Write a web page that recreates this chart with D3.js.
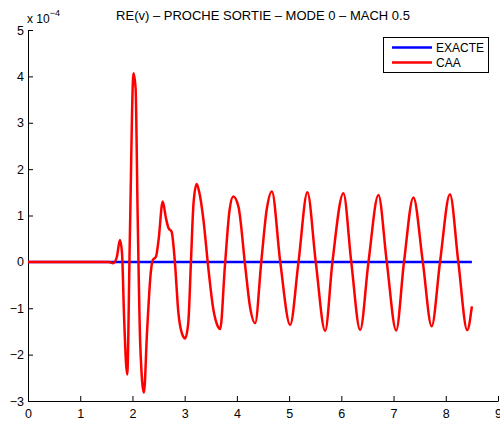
<!DOCTYPE html>
<html>
<head>
<meta charset="utf-8">
<script src="https://cdn.jsdelivr.net/npm/d3@7"></script>
<style>
  body { margin: 0; background: #fff; }
  text { font-family: "Liberation Sans", Arial, sans-serif; }
</style>
</head>
<body>
<div id="chart"></div>
<script>
// Data (values in units of 1e-4)
const caaX = [0, 1.4, 1.55, 1.63, 1.7, 1.76, 1.80, 1.84, 1.90, 1.95, 2.02, 2.06, 2.10, 2.15, 2.22, 2.28,
  2.35, 2.39, 2.45, 2.50, 2.58, 2.64, 2.69, 2.75, 2.81, 2.88, 2.95, 3.01, 3.07, 3.12, 3.17, 3.23, 3.28,
  3.36, 3.45, 3.55, 3.62, 3.68, 3.77, 3.86, 3.93, 4.03, 4.16, 4.25, 4.35, 4.47, 4.57, 4.67, 4.83, 5.02,
  5.18, 5.35, 5.51, 5.69, 5.83, 6.04, 6.19, 6.36, 6.52, 6.71, 6.87, 7.05, 7.20, 7.38, 7.56, 7.73, 7.89,
  8.08, 8.24, 8.41, 8.50];
const caaY = [0, 0, 0, -0.03, 0.1, 0.47, 0.2, -1.2, -2.43, 0.5, 4.07, 3.75, 1.0, -1.8, -2.82, -1.5,
  -0.24, 0.04, 0.11, 0.47, 1.30, 0.95, 0.73, 0.65, 0.04, -1.1, -1.55, -1.65, -1.3, 0.0, 1.27, 1.68, 1.5,
  0.9, -0.1, -1.03, -1.35, -1.45, -0.1, 1.12, 1.41, 1.19, -0.1, -0.96, -1.32, 0.04, 1.12, 1.52, 0, -1.36,
  0, 1.50, 0, -1.49, 0, 1.48, 0, -1.47, 0, 1.44, 0, -1.48, 0, 1.39, 0, -1.39, 0,
  1.46, 0, -1.47, -0.96];
const exactX = [0, 8.5];
const exactY = [0, 0];

const xTicks = [0, 1, 2, 3, 4, 5, 6, 7, 8, 9];
const yTicks = [-3, -2, -1, 0, 1, 2, 3, 4, 5];
const legendNames = ["EXACTE", "CAA"];
const legendColors = ["#0000ff", "#ff0000"];
const title = "RE(v) \u2013 PROCHE SORTIE \u2013 MODE 0 \u2013 MACH 0.5";

const W = 500, H = 423;
const margin = {left: 28, right: 2, top: 30, bottom: 22};

const svg = d3.select("#chart").append("svg")
    .attr("width", W).attr("height", H);

const xScale = d3.scaleLinear().domain([0, 9]).range([margin.left, W - margin.right]);
const yScale = d3.scaleLinear().domain([-3, 5]).range([H - margin.bottom, margin.top]);

// axes
const xAxis = d3.axisBottom(xScale).tickValues(xTicks).tickSizeInner(-5).tickSizeOuter(0).tickPadding(8);
const yAxis = d3.axisLeft(yScale).tickValues(yTicks).tickSizeInner(-5).tickSizeOuter(0).tickPadding(4)
    .tickFormat(d => d < 0 ? "\u2212" + Math.abs(d) : d);

const gx = svg.append("g").attr("transform", "translate(0," + yScale(-3) + ")").call(xAxis);
const gy = svg.append("g").attr("transform", "translate(" + xScale(0) + ",0)").call(yAxis);
[gx, gy].forEach(g => {
  g.selectAll("text").attr("font-size", 12.5).attr("fill", "#000")
    .attr("font-family", "'Liberation Sans', Arial, sans-serif");
  g.selectAll("path,line").attr("stroke", "#000");
});

// lines
const line = d3.line().x(d => xScale(d[0])).y(d => yScale(d[1])).curve(d3.curveMonotoneX);
svg.append("path").datum(exactX.map((v, i) => [v, exactY[i]]))
    .attr("d", d3.line().x(d => xScale(d[0])).y(d => yScale(d[1])))
    .attr("fill", "none").attr("stroke", legendColors[0]).attr("stroke-width", 2.5);
svg.append("path").datum(caaX.map((v, i) => [v, caaY[i]]))
    .attr("d", line)
    .attr("fill", "none").attr("stroke", legendColors[1]).attr("stroke-width", 2.5)
    .attr("stroke-linejoin", "round");

// title
svg.append("text").attr("x", (xScale(0) + xScale(9)) / 2).attr("y", 20)
    .attr("text-anchor", "middle").attr("font-size", 13).text(title);

// exponent label
const ex = svg.append("text").attr("x", 27).attr("y", 23).attr("font-size", 12);
ex.append("tspan").text("x 10");
ex.append("tspan").attr("dy", -7).attr("font-size", 9).text("\u22124");

// legend
const lg = svg.append("g");
lg.append("rect").attr("x", 383.5).attr("y", 37.5).attr("width", 105).attr("height", 35)
    .attr("fill", "#fff").attr("stroke", "#000").attr("stroke-width", 1);
legendNames.forEach((n, i) => {
  const yy = 47.5 + i * 15;
  lg.append("line").attr("x1", 392).attr("x2", 432).attr("y1", yy).attr("y2", yy)
    .attr("stroke", legendColors[i]).attr("stroke-width", 2.5);
  lg.append("text").attr("x", 436).attr("y", yy + 4.5).attr("font-size", 12).text(n);
});
</script>
</body>
</html>
